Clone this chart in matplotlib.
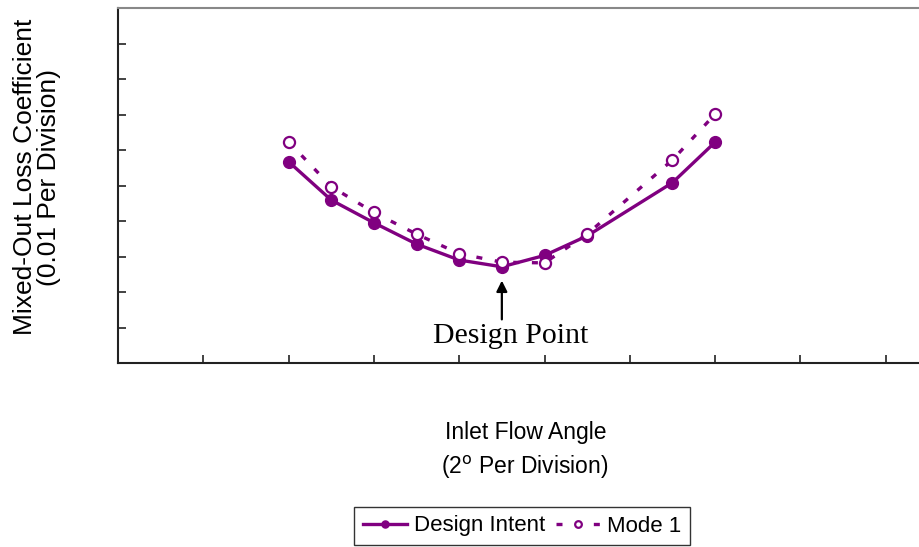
import matplotlib
matplotlib.use("Agg")
import matplotlib.pyplot as plt

# Inlet flow angle (degrees, 2 deg per division)
angle = [4, 5, 6, 7, 8, 9, 10, 11, 13, 14]
# Loss coefficient (in divisions of 0.01)
design_intent = [5.67, 4.59, 3.95, 3.35, 2.90, 2.71, 3.03, 3.58, 5.08, 6.22]
mode1 = [6.23, 4.97, 4.24, 3.63, 3.08, 2.84, 2.82, 3.63, 5.72, 7.01]

purple = "#800080"

fig = plt.figure(figsize=(9.19, 5.47), dpi=100)
ax = fig.add_axes([118/919, (547-363)/547, 853/919, 355/547])

ax.plot(angle, design_intent, color=purple, lw=2.4, marker="o", ms=8.5,
        mfc=purple, mec=purple, label="Design Intent", zorder=3)
ax.plot(angle, mode1, color=purple, lw=2.4, ls=(0, (1.8, 3.8)), marker="o", ms=8,
        mfc="white", mec=purple, mew=1.6, label="Mode 1", zorder=4)

ax.set_xlim(0, 20)
ax.set_ylim(0, 10)
ax.set_xticks(range(0, 21, 2))
ax.set_yticks(range(0, 11))
ax.set_xticklabels([])
ax.set_yticklabels([])
ax.tick_params(direction="in", length=6, width=1.2, color="#222222")
ax.tick_params(axis="x", top=False)
ax.tick_params(axis="y", right=False)
for s in ["left", "bottom"]:
    ax.spines[s].set_color("#222222")
    ax.spines[s].set_linewidth(1.5)
ax.spines["top"].set_color("#888888")
ax.spines["top"].set_linewidth(1.5)
ax.spines["right"].set_visible(False)

# Design point annotation
ax.annotate("", xy=(9, 2.40), xytext=(9, 1.15),
            arrowprops=dict(arrowstyle="-|>", color="black", lw=1.6,
                            mutation_scale=16))
fig.text(511/919, 1 - 336/547, "Design Point", family="Liberation Serif",
         fontsize=21.5, ha="center", va="center")

# Axis labels
fig.text(37/919, 1 - 177/547, "Mixed-Out Loss Coefficient\n(0.01 Per Division)",
         family="Liberation Sans", fontsize=19, rotation=90, ha="center",
         va="center", linespacing=1.0)
fig.text(526/919, 1 - 432/547, "Inlet Flow Angle", family="Liberation Sans",
         fontsize=16.5, ha="center", va="center")
fig.text(525/919, 1 - 467/547, r"(2$^{\mathrm{o}}$ Per Division)",
         family="Liberation Sans", fontsize=16.5, ha="center", va="center")

leg = fig.legend(loc="center", bbox_to_anchor=(522/919, 1 - 526/547), ncol=2,
                 frameon=True, fancybox=False, edgecolor="black",
                 prop=dict(family="Liberation Sans", size=16),
                 handlelength=2.0, columnspacing=0.5, handletextpad=0.3,
                 borderpad=0.4, borderaxespad=0, markerscale=0.6)
leg.get_frame().set_linewidth(1.0)

fig.savefig("out.png", dpi=100)
